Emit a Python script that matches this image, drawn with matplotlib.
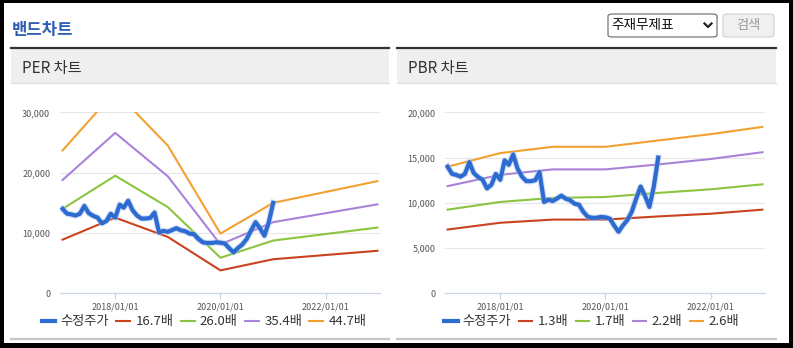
import matplotlib
matplotlib.use("Agg")
import matplotlib.pyplot as plt
import matplotlib.dates as mdates
from matplotlib.patches import Rectangle, FancyBboxPatch
from matplotlib.lines import Line2D
import pandas as pd

plt.rcParams['font.family'] = ['Noto Sans CJK KR', 'DejaVu Sans']

W, H = 793, 348

# monthly adjusted price, 2017/01 .. 2021/01
price_start = '2017-01-01'
price = [14000, 13200, 13100, 12900, 13200, 14500, 13300, 12850, 12550, 11600, 12000, 13200,
         12550, 14700, 14200, 15350, 13800, 12900, 12400, 12400, 12500, 13400, 10100, 10350,
         10200, 10500, 10800, 10450, 10300, 9900, 9800, 9000, 8450, 8350, 8350, 8450,
         8400, 8250, 7500, 6800, 7500, 8100, 9000, 10450, 11800, 10800, 9550, 11750, 15000]

per_dates = ['2017-01-01', '2018-01-01', '2019-01-01', '2020-01-01', '2021-01-01', '2022-12-25']
per_labels = ['16.7배', '26.0배', '35.4배', '44.7배']
per_167 = [8900, 12550, 9350, 3800, 5650, 7050]
per_260 = [14000, 19500, 14300, 5900, 8750, 10900]
per_354 = [18800, 26600, 19400, 8100, 11800, 14750]
per_447 = [23700, 33500, 24500, 9900, 15000, 18600]
per_yticks = [0, 10000, 20000, 30000]

pbr_dates = ['2017-01-01', '2018-01-01', '2019-01-01', '2020-01-01', '2021-01-01',
             '2022-01-01', '2022-12-25']
pbr_labels = ['1.3배', '1.7배', '2.2배', '2.6배']
pbr_13 = [7050, 7800, 8150, 8150, 8500, 8800, 9250]
pbr_17 = [9250, 10100, 10550, 10650, 11100, 11500, 12050]
pbr_22 = [11850, 13100, 13700, 13700, 14250, 14850, 15600]
pbr_26 = [14000, 15500, 16200, 16200, 16900, 17600, 18400]
pbr_yticks = [0, 5000, 10000, 15000, 20000]

xticks = ['2018-01-01', '2020-01-01', '2022-01-01']
band_colors = ['#c9431f', '#8bc53f', '#a982d9', '#f2a130']
price_color = '#2e6bd1'


def fx(px):
    return px / W


def fy(py):
    return 1 - py / H


def draw_panel(fig, left, right, title, bands, band_dates, labels, yticks, legend_x):
    # panel frame
    fig.add_artist(Rectangle((fx(left), fy(83)), fx(right - left), (83 - 48) / H,
                             transform=fig.transFigure, facecolor='#efefef', edgecolor='none',
                             zorder=-1))
    fig.add_artist(Line2D([fx(left), fx(right)], [fy(47.5), fy(47.5)], transform=fig.transFigure,
                          color='#333333', lw=1.6))
    fig.add_artist(Line2D([fx(left), fx(right)], [fy(83), fy(83)], transform=fig.transFigure,
                          color='#dcdcdc', lw=0.8))
    fig.add_artist(Line2D([fx(left), fx(right)], [fy(338.5), fy(338.5)], transform=fig.transFigure,
                          color='#c8c8c8', lw=1.6))
    fig.text(fx(left + 11), fy(68.5), title, fontsize=11, color='#333333', va='center', ha='left')

    ax_left = left + 49 if left < 300 else left + 48
    ax = fig.add_axes([fx(ax_left), fy(293.3), fx(320), (293.3 - 111.7) / H])
    ax.patch.set_alpha(0)
    dates = pd.to_datetime(band_dates)
    for vals, lab, col in zip(bands, labels, band_colors):
        ax.plot(dates, vals, color=col, lw=1.5, label=lab, zorder=3)
    pdates = pd.date_range(price_start, periods=len(price), freq='MS')
    ax.plot(pdates, price, color='#a9c3ef', lw=4.6, alpha=0.5, zorder=4,
            solid_joinstyle='round')
    ax.plot(pdates, price, color=price_color, lw=3.0, label='수정주가', zorder=5,
            solid_joinstyle='round')

    ax.set_ylim(0, yticks[-1] * 1.004)
    ax.set_xlim(pd.Timestamp('2016-12-14'), pd.Timestamp('2023-01-12'))
    ax.set_yticks(yticks)
    ax.set_yticklabels([f"{v:,}" for v in yticks])
    ax.set_xticks(pd.to_datetime(xticks))
    ax.xaxis.set_major_formatter(mdates.DateFormatter('%Y/%m/%d'))
    for s in ['left', 'right', 'top']:
        ax.spines[s].set_visible(False)
    ax.spines['bottom'].set_color('#ccd6eb')
    ax.spines['bottom'].set_linewidth(0.9)
    ax.grid(axis='y', color='#e6e6e6', lw=0.8)
    ax.set_axisbelow(True)
    ax.tick_params(axis='y', length=0, pad=7, labelsize=6.5, labelcolor='#555555')
    ax.tick_params(axis='x', length=4, width=0.9, color='#ccd6eb', pad=2.5, labelsize=6.5,
                   labelcolor='#555555')

    handles, labs = ax.get_legend_handles_labels()
    order = [len(handles) - 1] + list(range(len(handles) - 1))
    ax.legend([handles[i] for i in order], [labs[i] for i in order],
              loc='center', bbox_to_anchor=(fx(legend_x), fy(322)), bbox_transform=fig.transFigure,
              ncol=5, frameon=False, fontsize=9.5, handlelength=1.05, handletextpad=0.4,
              columnspacing=0.55, labelcolor='#333333', borderpad=0)
    return ax


def main():
    fig = plt.figure(figsize=(W / 100, H / 100), dpi=100)
    fig.patch.set_facecolor('black')
    fig.add_artist(Rectangle((fx(4), fy(343)), fx(785), 340 / H, transform=fig.transFigure,
                             facecolor='white', edgecolor='none', zorder=-2))

    fig.text(fx(12), fy(30), '밴드차트', fontsize=12, fontweight='bold', color='#2f5fb3',
             va='center', ha='left')

    # select box and button
    fig.add_artist(FancyBboxPatch((fx(608), fy(37)), fx(109), 23 / H,
                                  boxstyle='round,pad=0,rounding_size=0.006',
                                  transform=fig.transFigure, facecolor='white',
                                  edgecolor='#767676', lw=0.9))
    fig.text(fx(611), fy(25.5), '주재무제표', fontsize=9.8, color='#111111', va='center', ha='left')
    fig.add_artist(Line2D([fx(704.5), fx(708), fx(711.5)], [fy(23.5), fy(27), fy(23.5)],
                          transform=fig.transFigure, color='#222222', lw=1.6))
    fig.add_artist(FancyBboxPatch((fx(723), fy(37)), fx(51), 23 / H,
                                  boxstyle='round,pad=0,rounding_size=0.006',
                                  transform=fig.transFigure, facecolor='#f0f0f0',
                                  edgecolor='#d4d4d4', lw=0.9))
    fig.text(fx(748.5), fy(25.5), '검색', fontsize=9.5, color='#9a9a9a', va='center', ha='center')

    draw_panel(fig, 11, 389, 'PER 차트', [per_167, per_260, per_354, per_447], per_dates,
               per_labels, per_yticks, 204)
    draw_panel(fig, 397, 776, 'PBR 차트', [pbr_13, pbr_17, pbr_22, pbr_26], pbr_dates,
               pbr_labels, pbr_yticks, 591.5)

    fig.savefig('out.png', dpi=100, facecolor=fig.get_facecolor())


if __name__ == "__main__":
    main()
